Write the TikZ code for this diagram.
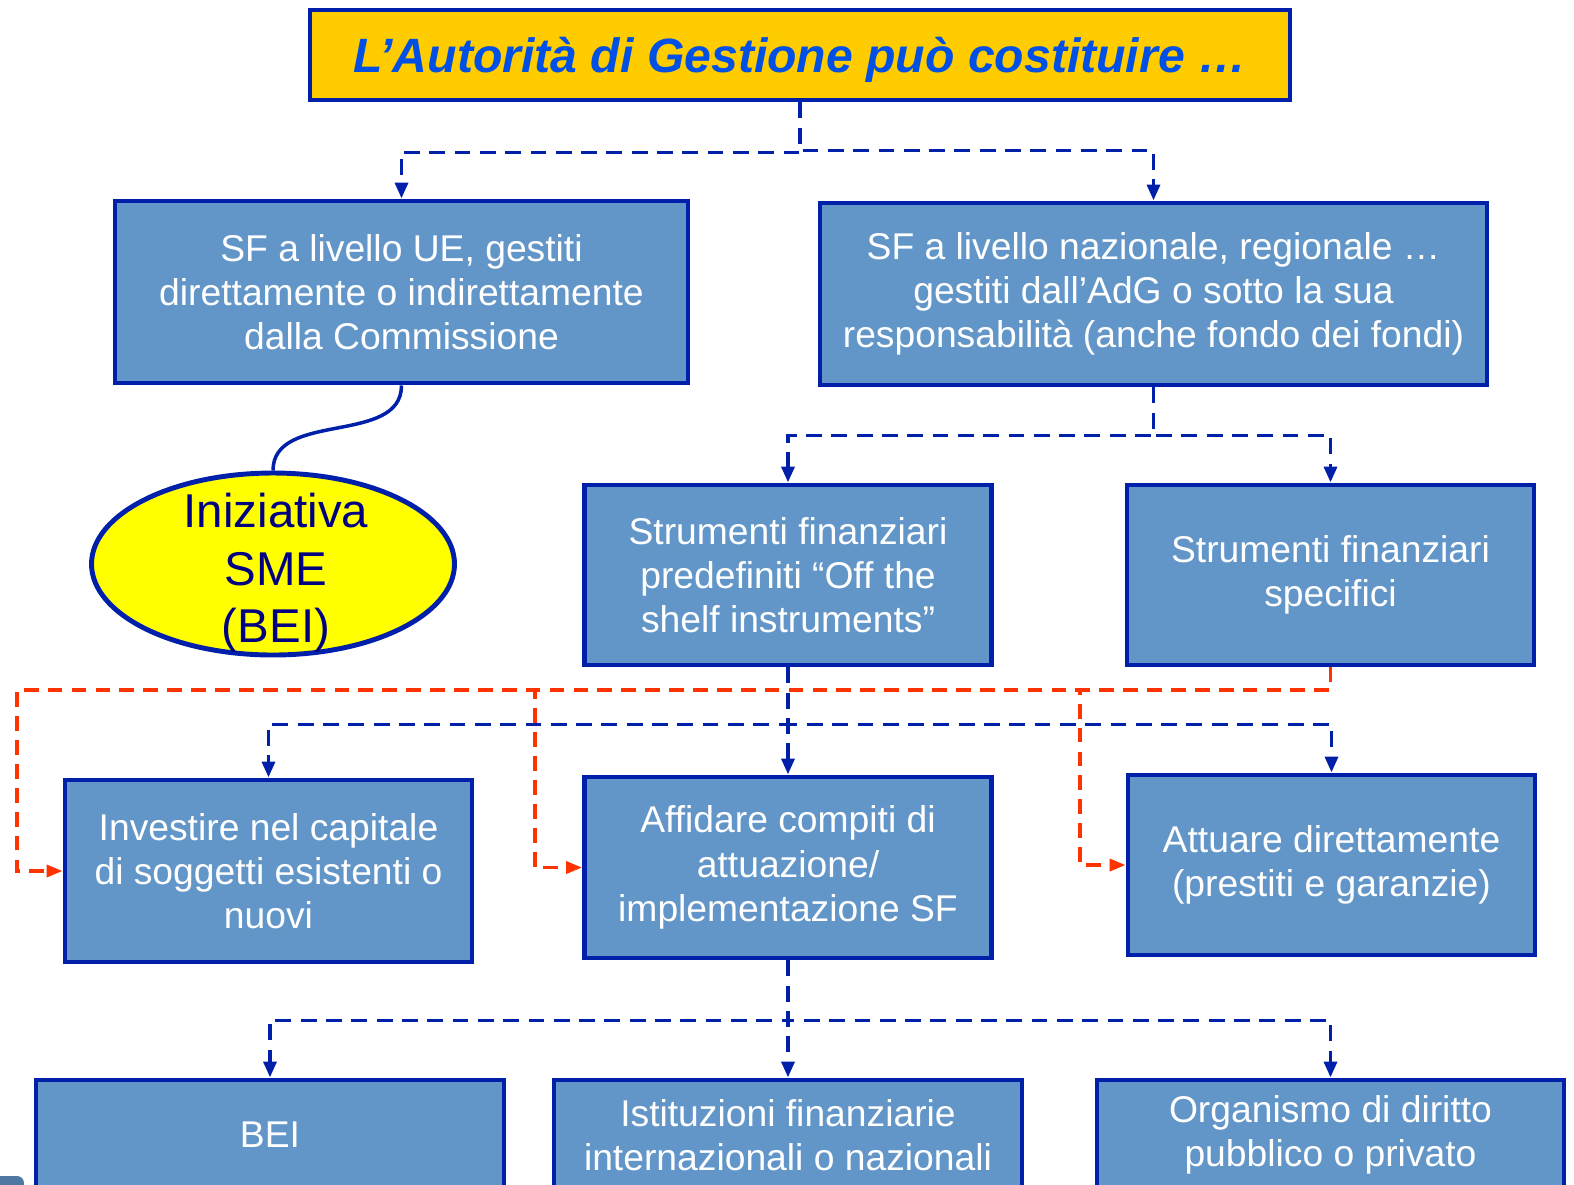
\documentclass[tikz,border=0pt]{standalone}
\usepackage{fontspec}
\setmainfont{Liberation Sans}
\usetikzlibrary{shapes.geometric}
\usetikzlibrary{arrows.meta}
\usetikzlibrary{positioning}
\definecolor{BoxBlue}{RGB}{99,150,200}
\definecolor{EdgeBlue}{RGB}{0,32,170}
\definecolor{TitleGold}{RGB}{255,204,0}
\definecolor{TitleText}{RGB}{0,80,230}
\definecolor{LinkRed}{RGB}{255,51,0}
\definecolor{SmeYellow}{RGB}{255,255,0}
\definecolor{SmeText}{RGB}{0,0,128}
\tikzstyle{Box}=[draw=EdgeBlue,line width=1.4pt,fill=BoxBlue,text=white,align=center,inner sep=0pt,font=\fontsize{10.6}{12.6}\selectfont]
\tikzstyle{TitleBox}=[draw=EdgeBlue,line width=1.4pt,fill=TitleGold,text=TitleText,inner sep=0pt,text depth=0pt,font=\fontsize{13.7}{16}\selectfont\bfseries\itshape]
\tikzstyle{Ell}=[ellipse,draw=EdgeBlue,line width=1.4pt,fill=SmeYellow,inner sep=0pt]
\tikzstyle{EllText}=[text=SmeText,align=center,inner sep=0pt,font=\fontsize{13.5}{16.4}\selectfont]
\tikzstyle{Link}=[draw=EdgeBlue,line width=1.1pt,dash pattern=on 4.5pt off 2.7pt,-{Triangle[length=4.5pt,width=3.6pt]}]
\tikzstyle{RedLink}=[draw=LinkRed,line width=0.95pt,dash pattern=on 4.2pt off 2.6pt,-{Triangle[length=4.5pt,width=3.4pt]}]
\tikzstyle{Curve}=[draw=EdgeBlue,line width=1pt]

\begin{document}
\begin{tikzpicture}[x=0.1mm,y=-0.1mm]

  \useasboundingbox (0,0) rectangle (1574,1184);

  % Title
  \node[TitleBox,minimum width=9.8cm,minimum height=0.9cm] (Title) at (800,55) {L’Autorità di Gestione può costituire …};

  % First level
  \node[Box,minimum width=5.73cm,minimum height=1.82cm] (UE) at (401.5,292)
    {SF a livello UE, gestiti\\direttamente o indirettamente\\dalla Commissione};
  \node[Box,minimum width=6.67cm,minimum height=1.82cm] (Naz) at (1153.5,294)
    {SF a livello nazionale, regionale …\\gestiti dall’AdG o sotto la sua\\responsabilità (anche fondo dei fondi)};

  % SME initiative
  \node[Ell,minimum width=3.63cm,minimum height=1.82cm] (SME) at (273,564) {};
  \node[EllText] (SMEtext) at (276,573) {Iniziativa\\SME\\(BEI)};

  % Second level
  \node[Box,minimum width=4.07cm,minimum height=1.8cm] (Pred) at (788,575)
    {Strumenti finanziari\\predefiniti “Off the\\shelf instruments”};
  \node[Box,minimum width=4.07cm,minimum height=1.8cm] (Spec) at (1330.5,575)
    {Strumenti finanziari\\specifici};

  % Third level
  \node[Box,minimum width=4.07cm,minimum height=1.82cm] (Inv) at (268.5,871)
    {Investire nel capitale\\di soggetti esistenti o\\nuovi};
  \node[Box,minimum width=4.07cm,minimum height=1.81cm] (Aff) at (788,867.5)
    {Affidare compiti di\\attuazione/\\implementazione SF};
  \node[Box,minimum width=4.07cm,minimum height=1.8cm] (Att) at (1331.5,865)
    {Attuare direttamente\\(prestiti e garanzie)};

  % Fourth level
  \node[Box,minimum width=4.68cm,minimum height=1.1cm] (BEI) at (270,1135) {BEI};
  \node[Box,minimum width=4.68cm,minimum height=1.1cm] (Ist) at (788,1135)
    {Istituzioni finanziarie\\internazionali o nazionali};
  \node[Box,minimum width=4.67cm,minimum height=1.1cm] (Org) at (1330.5,1135)
    {Organismo di diritto\\pubblico o privato};

  % Corner mark
  \fill[BoxBlue!80!black,rounded corners=2pt] (-10,1176) rectangle (24,1200);

  % Links
  \draw[Link] (Title.south) -- ++(0,50) -| (UE.north);
  \draw[Link] (Title.south) -- ++(0,48) -| (Naz.north);
  \draw[Curve] (UE.south) to[out=-90,in=90] (SME.north);

  \draw[Link] (Naz.south) -- ++(0,48) -| (Pred.north);
  \draw[Link] (Naz.south) -- ++(0,48) -| (Spec.north);

  \draw[Link] (Pred.south) -- ++(0,57) -| (Inv.north);
  \draw[Link] (Pred.south) -- (Aff.north);
  \draw[Link] (Pred.south) -- ++(0,57) -| (Att.north);

  \draw[RedLink] (Spec.south) |- (17,690) |- (Inv.west);
  \draw[RedLink] (Spec.south) |- (535,690) |- (Aff.west);
  \draw[RedLink] (Spec.south) |- (1080,690) |- (Att.west);

  \draw[Link] (Aff.south) -- ++(0,60) -| (BEI.north);
  \draw[Link] (Aff.south) -- (Ist.north);
  \draw[Link] (Aff.south) -- ++(0,60) -| (Org.north);

\end{tikzpicture}
\end{document}
